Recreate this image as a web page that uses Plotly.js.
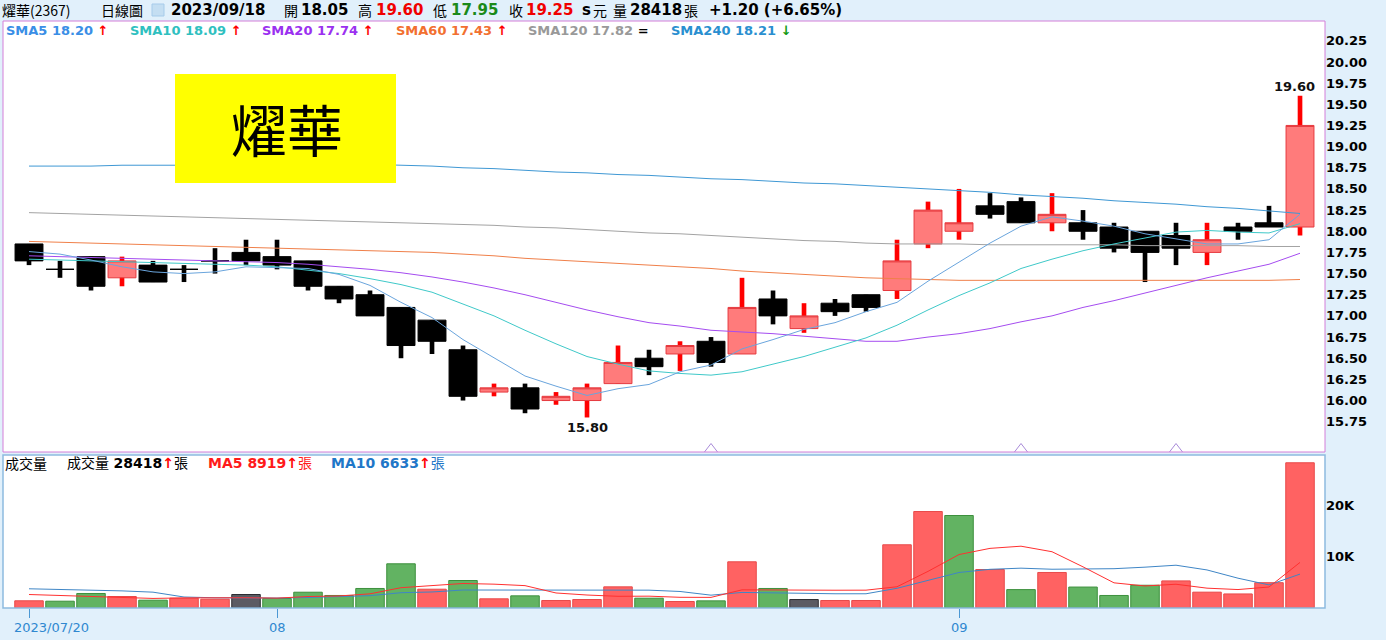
<!DOCTYPE html>
<html><head><meta charset="utf-8">
<script src="https://cdn.plot.ly/plotly-3.0.1.min.js"></script>
<style>html,body{margin:0;padding:0;background:#e1f0fb;}#chart{width:1386px;height:640px;}</style>
</head><body><div id="chart"></div>
<script>
// ---------------- data ----------------
const stockName = '燿華';
const stockCode = '2367';
const dates = ['2023/07/20','2023/07/21','2023/07/24','2023/07/25','2023/07/26','2023/07/27','2023/07/28','2023/07/31',
 '2023/08/01','2023/08/02','2023/08/04','2023/08/07','2023/08/08','2023/08/09','2023/08/10','2023/08/11','2023/08/14',
 '2023/08/15','2023/08/16','2023/08/17','2023/08/18','2023/08/21','2023/08/22','2023/08/23','2023/08/24','2023/08/25',
 '2023/08/28','2023/08/29','2023/08/30','2023/08/31','2023/09/01','2023/09/04','2023/09/05','2023/09/06','2023/09/07',
 '2023/09/08','2023/09/11','2023/09/12','2023/09/13','2023/09/14','2023/09/15','2023/09/18'];
const open  = [17.85,17.55,17.70,17.45,17.60,17.55,17.65,17.75,17.70,17.65,17.35,17.25,17.10,16.95,16.60,16.10,16.15,16.00,16.00,16.20,16.50,
 16.55,16.70,16.55,17.20,16.85,17.15,17.25,17.30,17.85,18.00,18.30,18.35,18.10,18.10,18.05,18.00,17.95,17.75,18.05,18.10,18.05];
const high  = [17.85,17.65,17.70,17.70,17.65,17.60,17.80,17.90,17.90,17.65,17.35,17.30,17.10,16.95,16.65,16.20,16.20,16.10,16.20,16.65,16.60,
 16.70,16.75,17.45,17.30,17.15,17.20,17.25,17.90,18.35,18.50,18.45,18.40,18.45,18.25,18.10,18.00,18.10,18.10,18.10,18.30,19.60];
const low   = [17.60,17.45,17.30,17.35,17.40,17.40,17.50,17.60,17.55,17.30,17.15,17.00,16.50,16.55,16.00,16.05,15.85,15.95,15.80,16.20,16.30,
 16.35,16.40,16.55,16.90,16.80,17.00,17.05,17.20,17.80,17.90,18.15,18.10,18.00,17.90,17.75,17.40,17.60,17.60,17.90,18.05,17.95];
const close = [17.65,17.55,17.35,17.65,17.40,17.55,17.65,17.65,17.60,17.35,17.20,17.00,16.65,16.70,16.05,16.15,15.90,16.05,16.15,16.45,16.40,
 16.65,16.45,17.10,17.00,17.00,17.05,17.10,17.65,18.25,18.10,18.20,18.10,18.20,18.00,17.80,17.75,17.80,17.90,18.00,18.05,19.25];
const priorClose = 17.60; // close of the day before the first bar (estimated)
const volume = [1410,1330,2840,2250,1530,1920,1720,2640,1860,3090,2450,3820,8650,3680,5380,1800,2380,1470,1660,4140,1920,
 1270,1400,9040,3820,1660,1470,1470,12370,18880,18100,7530,3600,6950,4100,2450,4450,5300,3100,2750,4950,28418];

const sma5   = [17.76,17.73,17.66,17.58,17.52,17.50,17.52,17.58,17.57,17.56,17.49,17.36,17.16,16.98,16.72,16.51,16.29,16.17,16.06,16.14,16.19,
 16.34,16.42,16.61,16.72,16.84,16.92,17.05,17.16,17.41,17.63,17.86,18.06,18.17,18.12,18.06,17.97,17.91,17.85,17.85,17.90,18.20];
const sma10  = [17.67,17.66,17.65,17.64,17.63,17.62,17.61,17.60,17.58,17.54,17.50,17.44,17.37,17.28,17.14,17.00,16.83,16.67,16.52,16.43,16.35,
 16.32,16.30,16.34,16.43,16.52,16.63,16.74,16.89,17.07,17.24,17.39,17.56,17.67,17.77,17.85,17.92,17.99,18.01,17.99,17.98,18.09];
const sma20  = [17.71,17.70,17.69,17.68,17.67,17.66,17.65,17.64,17.63,17.61,17.58,17.55,17.51,17.46,17.40,17.33,17.25,17.16,17.07,16.99,16.92,
 16.88,16.83,16.81,16.79,16.76,16.73,16.70,16.70,16.75,16.79,16.85,16.93,17.00,17.10,17.18,17.27,17.36,17.45,17.53,17.61,17.74];
const sma60  = [17.88,17.87,17.86,17.85,17.84,17.83,17.82,17.81,17.80,17.79,17.78,17.77,17.76,17.75,17.73,17.71,17.68,17.66,17.64,17.62,17.60,
 17.58,17.56,17.53,17.51,17.49,17.47,17.45,17.44,17.43,17.42,17.42,17.42,17.42,17.42,17.42,17.42,17.42,17.42,17.42,17.42,17.43];
const sma120 = [18.22,18.21,18.20,18.19,18.18,18.17,18.16,18.15,18.14,18.13,18.12,18.11,18.10,18.09,18.08,18.07,18.05,18.04,18.02,18.00,17.98,
 17.97,17.95,17.93,17.91,17.89,17.88,17.86,17.85,17.85,17.85,17.84,17.84,17.84,17.84,17.84,17.83,17.83,17.83,17.83,17.82,17.82];
const sma240 = [18.77,18.77,18.77,18.78,18.78,18.78,18.78,18.79,18.79,18.79,18.79,18.79,18.78,18.77,18.75,18.74,18.72,18.70,18.69,18.67,18.66,
 18.64,18.62,18.61,18.59,18.57,18.56,18.54,18.52,18.50,18.48,18.46,18.43,18.41,18.39,18.36,18.34,18.32,18.29,18.27,18.24,18.21];
const volMa5  = [2640,2450,2250,2100,1872,1974,2052,2012,1934,2246,2352,2772,3974,4338,4796,4666,4378,2942,2538,2290,2314,
 2092,2078,3554,3490,3438,3478,3492,4158,7170,10458,11670,12096,11012,8056,4926,4310,4650,3880,3610,4110,8919];
const volMa10 = [3760,3650,3500,3350,3100,2150,2000,1950,1950,2059,2163,2412,2993,3136,3521,3509,3575,3458,3438,3543,3490,
 3235,2510,3046,2890,2876,2785,2785,3856,5330,6948,7574,7794,7585,7613,7692,7990,8373,7446,5833,4518,6633];

const priceTicks = [15.75,16.00,16.25,16.50,16.75,17.00,17.25,17.50,17.75,18.00,18.25,18.50,18.75,19.00,19.25,19.50,19.75,20.00,20.25];
const volTicks = [10000, 20000];
const volTickText = ['10K', '20K'];
const xTickIdx = [0, 8, 30];
const xTickText = ['2023/07/20', '08', '09'];
const eventIdx = [22, 32, 37];
const smaNames = ['SMA5','SMA10','SMA20','SMA60','SMA120','SMA240'];

// ---------------- layout helpers ----------------
const W = 1386, H = 640;
const M = {l: 3, r: 61, t: 21, b: 32};
const plotW = W - M.l - M.r, plotH = H - M.t - M.b;
const px = x => (x - M.l) / plotW;
const py = y => (H - M.b - y) / plotH;
const FONT = 'DejaVu Sans, Noto Sans CJK TC, sans-serif';
const CJK = 'Noto Sans CJK TC, DejaVu Sans, sans-serif';
const priceRange = [15.392, 20.484];
const volRange = [0, 29940];

const smaColors = ['#6aa5dd', '#3fc9c9', '#a54cf0', '#f0804a', '#a3a3a3', '#3f98d4'];
const smaTextColors = ['#3a8ee6', '#2fc0c0', '#9b30f0', '#f27030', '#999999', '#2a8fd0'];
const smaData = [sma5, sma10, sma20, sma60, sma120, sma240];

const n = dates.length;
const isUp = close.map((c, i) => c > open[i]);
const bodyTop = open.map((o, i) => Math.max(o, close[i]));
const bodyBot = open.map((o, i) => Math.min(o, close[i]));
const pick = (arr, sel) => arr.filter((_, i) => sel(i));
const upSel = i => isUp[i], dnSel = i => !isUp[i];

const traces = [];
// wicks
traces.push({type: 'bar', x: dates, base: low, y: high.map((h, i) => +(h - low[i]).toFixed(2)), width: 0.15,
  marker: {color: isUp.map(u => u ? '#ff0000' : '#000000'), line: {width: 0}},
  xaxis: 'x', yaxis: 'y', hoverinfo: 'skip'});
// bodies
const upStyle = {fillcolor: '#ff7b7b', line: {color: '#e6393e', width: 1}};
const dnStyle = {fillcolor: '#000000', line: {color: '#000000', width: 1}};
traces.push({type: 'candlestick', x: pick(dates, upSel), open: pick(open, upSel), close: pick(close, upSel),
  high: pick(bodyTop, upSel), low: pick(bodyBot, upSel), increasing: upStyle, decreasing: upStyle,
  whiskerwidth: 0, xaxis: 'x', yaxis: 'y', hoverinfo: 'skip'});
traces.push({type: 'candlestick', x: pick(dates, dnSel), open: pick(open, dnSel), close: pick(close, dnSel),
  high: pick(bodyTop, dnSel), low: pick(bodyBot, dnSel), increasing: dnStyle, decreasing: dnStyle,
  whiskerwidth: 0, xaxis: 'x', yaxis: 'y', hoverinfo: 'skip'});
// moving averages (drawn longest first)
for (let k = smaData.length - 1; k >= 0; k--) {
  traces.push({type: 'scatter', mode: 'lines', x: dates, y: smaData[k], line: {color: smaColors[k], width: 1},
    xaxis: 'x', yaxis: 'y', hoverinfo: 'skip'});
}
// event markers at bottom of price panel
traces.push({type: 'scatter', mode: 'markers', x: eventIdx.map(i => dates[i]), y: eventIdx.map(() => priceRange[0]),
  marker: {symbol: 'triangle-up-open', size: 17, color: '#a88ad8', line: {width: 1, color: '#a88ad8'}},
  cliponaxis: true, xaxis: 'x', yaxis: 'y', hoverinfo: 'skip'});
// volume
const prevClose = close.map((c, i) => i === 0 ? priorClose : close[i - 1]);
const volDir = close.map((c, i) => c > prevClose[i] ? 1 : (c < prevClose[i] ? -1 : 0));
const volFill = volDir.map(d => d > 0 ? '#ff6262' : (d < 0 ? '#62b362' : '#5b5b63'));
const volLine = volDir.map(d => d > 0 ? '#e84a4a' : (d < 0 ? '#3d903d' : '#2c2c32'));
traces.push({type: 'bar', x: dates, y: volume, width: 0.92, marker: {color: volFill, line: {color: volLine, width: 1}},
  xaxis: 'x', yaxis: 'y2', hoverinfo: 'skip'});
traces.push({type: 'scatter', mode: 'lines', x: dates, y: volMa10, line: {color: '#3f86c6', width: 1}, xaxis: 'x', yaxis: 'y2', hoverinfo: 'skip'});
traces.push({type: 'scatter', mode: 'lines', x: dates, y: volMa5, line: {color: '#ff3030', width: 1}, xaxis: 'x', yaxis: 'y2', hoverinfo: 'skip'});

// ---------------- annotations ----------------
const ann = [];
function label(xPix, yPix, text, opts) {
  ann.push(Object.assign({xref: 'paper', yref: 'paper', x: px(xPix), y: py(yPix), text: text, showarrow: false,
    xanchor: 'left', yanchor: 'middle', borderpad: 0, font: {family: FONT, size: 13, color: '#000000'}}, opts || {}));
}
const last = n - 1;
const chg = close[last] - close[last - 1];
const pct = chg / close[last - 1] * 100;
const sgn = v => (v >= 0 ? '+' : '') ;
const RED = '#f00000', GREEN = '#1a8a1a';
const hf = {family: CJK, size: 14, color: '#000'};
const hb = {family: FONT, size: 15, color: '#000'};
label(1, 10, stockName + '(' + stockCode + ')', {font: hf});
label(100, 10, '日線圖', {font: hf});
label(170, 10, '<b>' + dates[last] + '</b>', {font: hb});
label(283, 10, '開', {font: hf});
label(300, 10, '<b>' + open[last].toFixed(2) + '</b>', {font: hb});
label(357, 10, '高', {font: hf});
label(375, 10, '<b>' + high[last].toFixed(2) + '</b>', {font: Object.assign({}, hb, {color: RED})});
label(432, 10, '低', {font: hf});
label(450, 10, '<b>' + low[last].toFixed(2) + '</b>', {font: Object.assign({}, hb, {color: GREEN})});
label(508, 10, '收', {font: hf});
label(525, 10, '<b>' + close[last].toFixed(2) + '</b>', {font: Object.assign({}, hb, {color: RED})});
label(581, 10, '<b>s</b>', {font: hb});
label(592, 10, '元', {font: hf});
label(612, 10, '量', {font: hf});
label(629, 10, '<b>' + volume[last] + '</b>', {font: hb});
label(683, 10, '張', {font: hf});
label(708, 10, '<b>' + sgn(chg) + chg.toFixed(2) + ' (' + sgn(pct) + pct.toFixed(2) + '%)</b>', {font: hb});

// SMA legend
const arrowOf = (arr) => {
  const a = +arr[arr.length - 1].toFixed(2), b = +arr[arr.length - 2].toFixed(2);
  if (a > b) return '<span style="color:#ff0000">↑</span>';
  if (a < b) return '<span style="color:#119911">↓</span>';
  return '<span style="color:#000000">=</span>';
};
const smaX = [5, 129, 261, 395, 527, 670];
smaNames.forEach((nm, k) => {
  const arr = smaData[k];
  label(smaX[k], 30, '<b>' + nm + ' ' + arr[arr.length - 1].toFixed(2) + ' ' + arrowOf(arr) + '</b>',
    {font: {family: FONT, size: 13, color: smaTextColors[k]}});
});

// volume legend
const vArrow = (a, b) => a > b ? '<span style="color:#ff0000"><b>↑</b></span>' : (a < b ? '<span style="color:#119911"><b>↓</b></span>' : '=');
label(4, 463, '成交量', {font: {family: CJK, size: 14, color: '#000'}});
label(66, 463, '成交量 <b>' + volume[last] + '</b>' + vArrow(volume[last], volume[last - 1]) + '張', {font: {family: FONT, size: 14, color: '#000'}});
label(207, 463, '<b>MA5 ' + volMa5[last] + '</b>' + vArrow(volMa5[last], volMa5[last - 1]) + '張', {font: {family: FONT, size: 14, color: '#ff1a1a'}});
label(330, 463, '<b>MA10 ' + volMa10[last] + '</b>' + vArrow(volMa10[last], volMa10[last - 1]) + '張', {font: {family: FONT, size: 14, color: '#1f77c8'}});

// high / low labels
const hiIdx = high.indexOf(Math.max(...high));
const loIdx = low.indexOf(Math.min(...low));
ann.push({xref: 'x', yref: 'y', x: dates[hiIdx], y: high[hiIdx], text: '<b>' + high[hiIdx].toFixed(2) + '</b>', showarrow: false,
  xanchor: 'center', yanchor: 'bottom', xshift: -6, yshift: 0, font: {family: FONT, size: 13, color: '#111'}});
ann.push({xref: 'x', yref: 'y', x: dates[loIdx], y: low[loIdx], text: '<b>' + low[loIdx].toFixed(2) + '</b>', showarrow: false,
  xanchor: 'center', yanchor: 'top', yshift: -1, font: {family: FONT, size: 13, color: '#111'}});

// x tick labels
xTickIdx.forEach((idx, k) => {
  ann.push({xref: 'x', yref: 'paper', x: dates[idx], y: py(627), text: xTickText[k], showarrow: false,
    xanchor: k === 0 ? 'left' : 'center', xshift: k === 0 ? -17 : 0, yanchor: 'middle',
    font: {family: FONT, size: 13, color: '#2f88d0'}});
});

// yellow name box
ann.push({xref: 'paper', yref: 'paper', x: px(287), y: py(127), text: stockName, showarrow: false,
  xanchor: 'center', yanchor: 'middle', font: {family: CJK, size: 56, color: '#000000'}});

const shapes = [
  {type: 'rect', xref: 'paper', yref: 'y domain', x0: 0, x1: 1, y0: 0, y1: 1, line: {color: '#d47fd8', width: 1}, fillcolor: 'rgba(0,0,0,0)', layer: 'above'},
  {type: 'rect', xref: 'paper', yref: 'y2 domain', x0: 0, x1: 1, y0: 0, y1: 1, line: {color: '#8dbae0', width: 1.5}, fillcolor: 'rgba(0,0,0,0)', layer: 'above'},
  {type: 'rect', xref: 'paper', yref: 'paper', x0: px(175), x1: px(396), y0: py(183), y1: py(74), line: {width: 0}, fillcolor: '#ffff00', layer: 'above'},
  {type: 'rect', xref: 'paper', yref: 'paper', x0: px(152), x1: px(164), y0: py(16), y1: py(4), line: {color: '#a6cbea', width: 1}, fillcolor: '#c4def2', layer: 'above'}
];

const layout = {
  width: W, height: H, margin: {l: M.l, r: M.r, t: M.t, b: M.b, pad: 0},
  paper_bgcolor: '#e1f0fb', plot_bgcolor: '#ffffff',
  showlegend: false, hovermode: false, barmode: 'overlay', boxgap: 0.1, boxgroupgap: 0,
  xaxis: {type: 'category', categoryorder: 'array', categoryarray: dates, range: [-0.839, 41.806], anchor: 'y2',
    tickvals: xTickIdx.map(i => dates[i]), ticktext: xTickIdx.map(() => ''), ticks: 'outside', ticklen: 9,
    tickcolor: '#4b98d4', tickwidth: 1, showgrid: false, zeroline: false, showline: false,
    rangeslider: {visible: false}, fixedrange: true},
  yaxis: {domain: [py(452), 1], range: priceRange, side: 'right', anchor: 'x',
    tickvals: priceTicks, ticktext: priceTicks.map(v => '<b>' + v.toFixed(2) + '</b>'), ticks: '',
    tickfont: {family: FONT, size: 13, color: '#000'}, showgrid: false, zeroline: false, showline: false, fixedrange: true},
  yaxis2: {domain: [0, py(455)], range: volRange, side: 'right', anchor: 'x',
    tickvals: volTicks, ticktext: volTickText.map(t => '<b>' + t + '</b>'), ticks: '',
    tickfont: {family: FONT, size: 13, color: '#000'}, showgrid: false, zeroline: false, showline: false, fixedrange: true},
  shapes: shapes, annotations: ann
};

Plotly.newPlot('chart', traces, layout, {staticPlot: true, displayModeBar: false});
</script></body></html>
